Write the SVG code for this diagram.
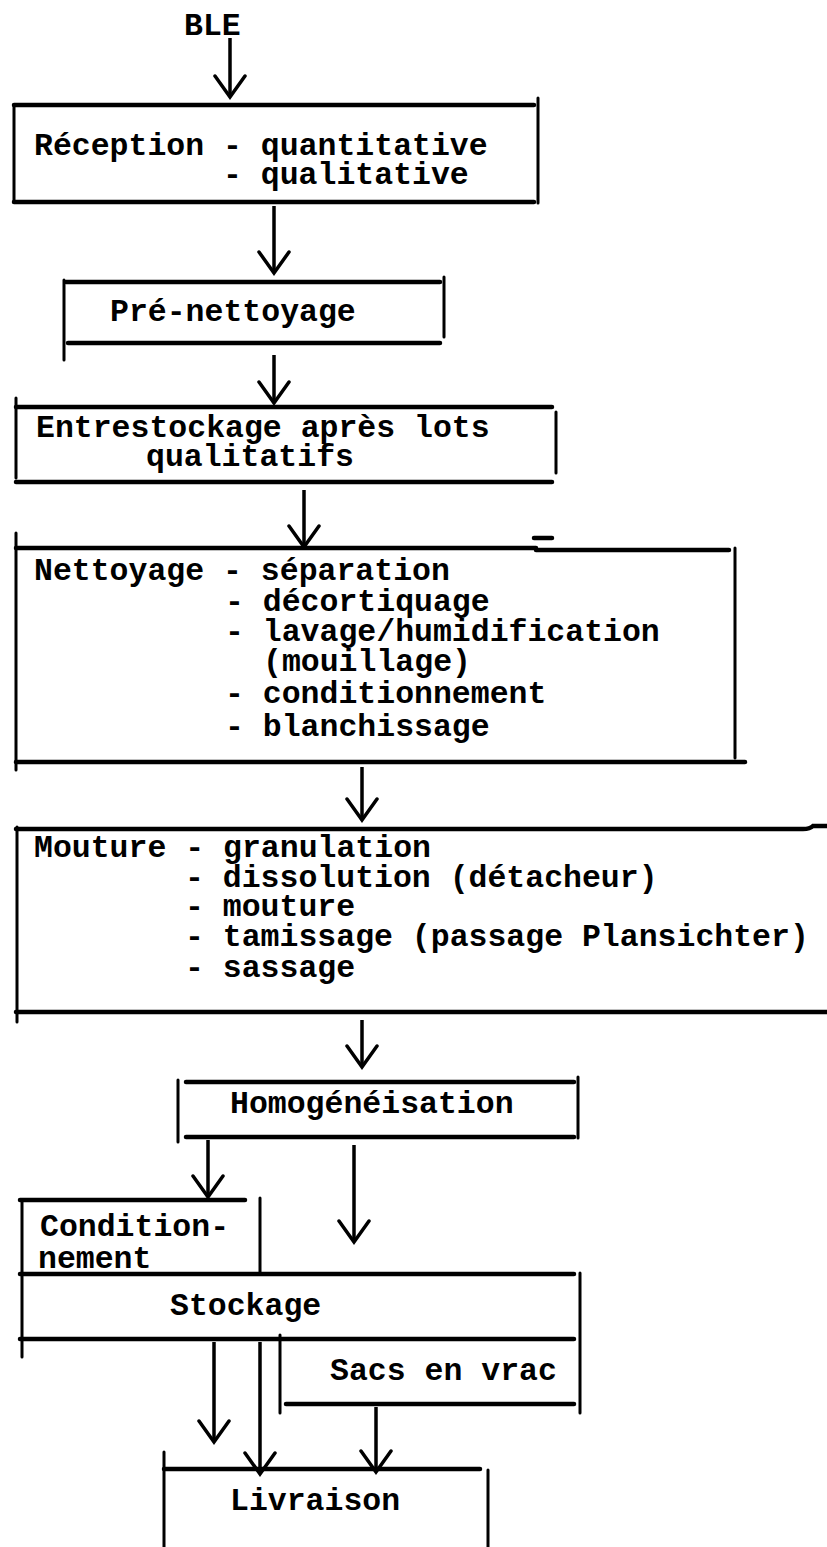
<svg xmlns="http://www.w3.org/2000/svg" width="827" height="1547" viewBox="0 0 827 1547">
<style>
  .t { font-family: "Liberation Mono", "DejaVu Sans Mono", monospace; font-size: 31.5px; font-weight: bold; fill: #000; }
  .h { stroke: #000; stroke-width: 4.5; fill: none; stroke-linecap: round; }
  .v { stroke: #000; stroke-width: 3; fill: none; stroke-linecap: round; }
  .c { stroke: #000; stroke-width: 3.5; fill: none; marker-end: url(#arr); }
</style>
<defs>
  <marker id="arr" markerUnits="userSpaceOnUse" viewBox="-24 -18 27 36" refX="0" refY="0" markerWidth="27" markerHeight="36" orient="auto">
    <path d="M-21,-15 L0,0 L-21,15" fill="none" stroke="#000" stroke-width="3.5" stroke-linecap="round" stroke-linejoin="miter"/>
  </marker>
</defs>
<rect width="827" height="1547" fill="#fff"/>

<g id="ble">
  <text class="t" x="184" y="35">BLE</text>
</g>

<g id="reception">
  <path class="h" d="M14,105 H534 M14,202 H534"/>
  <path class="v" d="M14,105 V202 M538,98 V203"/>
  <text class="t" x="34" y="155">Réception - quantitative</text>
  <text class="t" x="223" y="184">- qualitative</text>
</g>

<g id="prenettoyage">
  <path class="h" d="M66,282 H440 M68,343 H440"/>
  <path class="v" d="M64,280 V360 M444,277 V337"/>
  <text class="t" x="110" y="321">Pré-nettoyage</text>
</g>

<g id="entrestockage">
  <path class="h" d="M16,407 H552 M16,482 H552"/>
  <path class="v" d="M16,398 V478 M556,412 V473"/>
  <text class="t" x="36" y="437">Entrestockage après lots</text>
  <text class="t" x="146" y="466">qualitatifs</text>
</g>

<g id="nettoyage">
  <path class="h" d="M16,548 H536 M536,550 H729 M534,538 H552 M16,762 H745"/>
  <path class="v" d="M16,533 V770 M735,548 V758"/>
  <text class="t" x="34" y="580">Nettoyage - séparation</text>
  <text class="t" x="225" y="611">- décortiquage</text>
  <text class="t" x="225" y="641">- lavage/humidification</text>
  <text class="t" x="263" y="671">(mouillage)</text>
  <text class="t" x="225" y="703">- conditionnement</text>
  <text class="t" x="225" y="736">- blanchissage</text>
</g>

<g id="mouture">
  <path class="h" d="M16,829 H803 Q810,829 813,826 H827 M16,1012 H827"/>
  <path class="v" d="M17,827 V1022"/>
  <text class="t" x="34" y="857">Mouture - granulation</text>
  <text class="t" x="185" y="887">- dissolution (détacheur)</text>
  <text class="t" x="185" y="916">- mouture</text>
  <text class="t" x="185" y="946">- tamissage (passage Plansichter)</text>
  <text class="t" x="185" y="977">- sassage</text>
</g>

<g id="homogeneisation">
  <path class="h" d="M186,1082 H574 M186,1137 H574"/>
  <path class="v" d="M178,1080 V1142 M578,1077 V1138"/>
  <text class="t" x="230" y="1113">Homogénéisation</text>
</g>

<g id="conditionnement">
  <path class="h" d="M20,1200 H245"/>
  <path class="v" d="M22,1200 V1274 M260,1198 V1273"/>
  <text class="t" x="40" y="1236">Condition-</text>
  <text class="t" x="38" y="1268">nement</text>
</g>

<g id="stockage">
  <path class="h" d="M20,1274 H574 M20,1339 H574"/>
  <path class="v" d="M22,1274 V1357 M580,1273 V1413"/>
  <text class="t" x="170" y="1315">Stockage</text>
</g>

<g id="sacs">
  <path class="h" d="M286,1404 H574"/>
  <path class="v" d="M280,1335 V1413"/>
  <text class="t" x="330" y="1380">Sacs en vrac</text>
</g>

<g id="livraison">
  <path class="h" d="M164,1469 H480"/>
  <path class="v" d="M164,1452 V1547 M488,1470 V1547"/>
  <text class="t" x="230" y="1510">Livraison</text>
</g>

<g id="connectors">
  <path class="c" d="M230,38 V97"/>
  <path class="c" d="M274,206 V273"/>
  <path class="c" d="M274,355 V403"/>
  <path class="c" d="M304,490 V547"/>
  <path class="c" d="M362,767 V820"/>
  <path class="c" d="M362,1020 V1067"/>
  <path class="c" d="M208,1140 V1197"/>
  <path class="c" d="M354,1145 V1242"/>
  <path class="c" d="M214,1342 V1442"/>
  <path class="c" d="M260,1342 V1474"/>
  <path class="c" d="M376,1407 V1472"/>
</g>
</svg>
